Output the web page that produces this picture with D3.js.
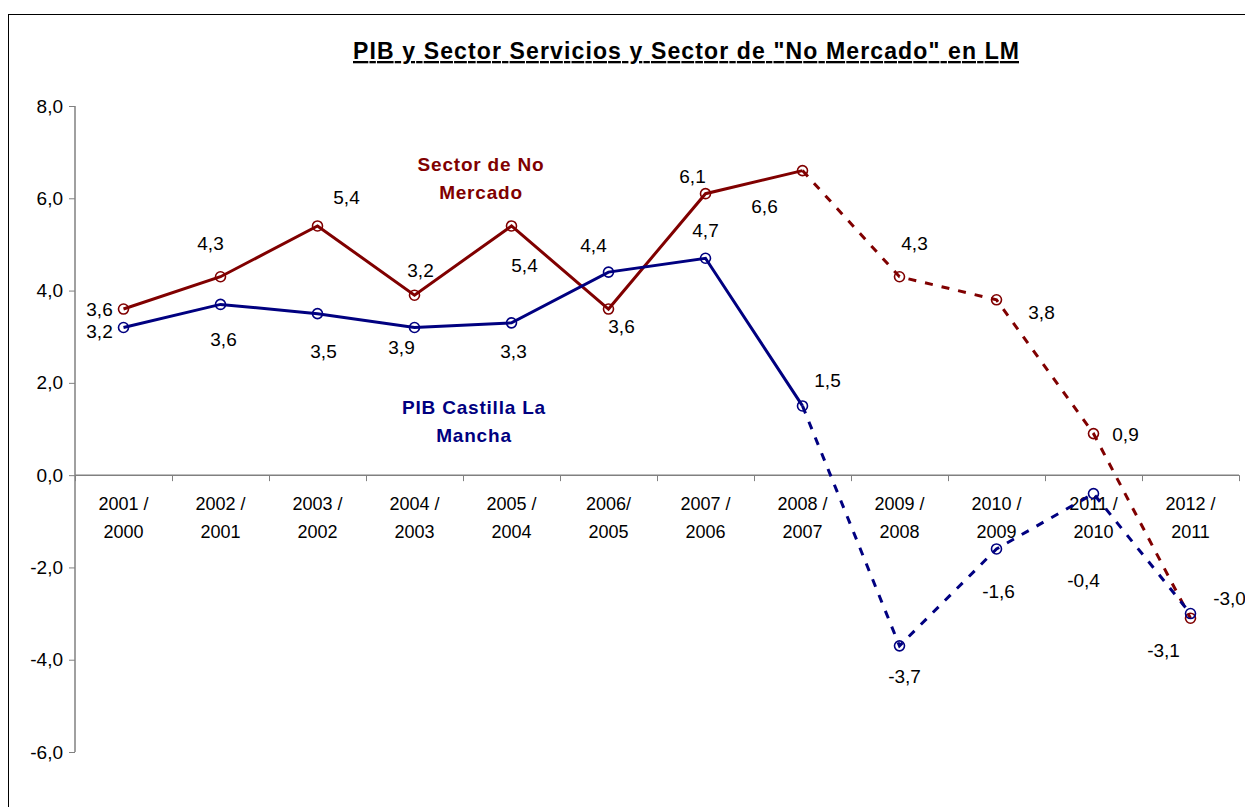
<html>
<head>
  <meta charset="utf-8">
  <script src="https://cdn.jsdelivr.net/npm/d3@7"></script>
</head>
<style>
  body { margin: 0; background: white; }
  svg { font-family: "Liberation Sans", Arial, sans-serif; }
</style>
<body>
  <svg id="chart" width="1245" height="807"></svg>
  <script>
    // data
    var categories = ['2001 /|2000', '2002 /|2001', '2003 /|2002', '2004 /|2003', '2005 /|2004', '2006/|2005',
                      '2007 /|2006', '2008 /|2007', '2009 /|2008', '2010 /|2009', '2011 /|2010', '2012 /|2011'];
    var noMercado = [3.6, 4.3, 5.4, 3.9, 5.4, 3.6, 6.1, 6.6, 4.3, 3.8, 0.9, -3.1];
    var pibCLM = [3.2, 3.7, 3.5, 3.2, 3.3, 4.4, 4.7, 1.5, -3.7, -1.6, -0.4, -3.0];
    // label texts as printed on the chart
    var noMercadoLabels = ['3,6', '4,3', '5,4', '3,2', '5,4', '3,6', '6,1', '6,6', '4,3', '3,8', '0,9', '-3,1'];
    var pibLabels = ['3,2', '3,6', '3,5', '3,9', '3,3', '4,4', '4,7', '1,5', '-3,7', '-1,6', '-0,4', '-3,0'];
    var yTicks = [-6, -4, -2, 0, 2, 4, 6, 8];
    var solidUntil = 7; // index of 2008/2007, dashed after it

    // label offsets (dx, dy) relative to the point
    var redOff = [[-24, 0], [-10, -34], [29, -29], [6, -25], [13, 39], [13, 17], [-13, -18], [-38, 35], [15, -34], [45, 12], [32, 0], [-27, 32]];
    var blueOff = [[-24, 4], [3, 35], [6, 37], [-13, 20], [2, 28], [-15, -27], [0, -28], [25, -26], [5, 30], [2, 42], [-10, 86], [39, -16]];

    var svg = d3.select('#chart');
    var red = '#800000', blue = '#000080';

    // outer frame
    svg.append('rect').attr('x', 8.5).attr('y', 14.5).attr('width', 1300).attr('height', 900)
      .attr('fill', 'none').attr('stroke', 'black').attr('stroke-width', 1);

    // title
    svg.append('text').attr('x', 686).attr('y', 59)
      .attr('text-anchor', 'middle').attr('font-size', '23px').attr('font-weight', 'bold')
      .attr('text-decoration', 'underline')
      .attr('textLength', 666).attr('lengthAdjust', 'spacing')
      .text('PIB y Sector Servicios y Sector de "No Mercado" en LM');

    var x = d3.scaleBand().domain(d3.range(categories.length)).range([75, 1239]);
    var y = d3.scaleLinear().domain([-6, 8]).range([752, 106]);
    var cx = function (i) { return x(i) + x.bandwidth() / 2; };

    // y axis
    var yAxis = svg.append('g').attr('transform', 'translate(75,0)')
      .call(d3.axisLeft(y).tickValues(yTicks).tickSize(6)
        .tickFormat(function (d) { return (d < 0 ? '-' : '') + Math.abs(d).toFixed(1).replace('.', ','); }));
    yAxis.select('.domain').attr('stroke', '#808080').attr('stroke-width', 1.5).attr('d', 'M0,' + y(-6) + 'V' + y(8));
    yAxis.selectAll('.tick line').attr('stroke', '#808080');
    yAxis.selectAll('.tick text').attr('font-size', '19px').attr('font-family', '"Liberation Sans", Arial, sans-serif').attr('x', -12).attr('fill', '#000');

    // x axis at zero
    var xAxis = svg.append('g').attr('transform', 'translate(0,' + y(0) + ')')
      .call(d3.axisBottom(d3.scaleLinear().domain([0, 12]).range([75, 1239])).tickValues(d3.range(13)).tickSize(6).tickFormat(''));
    xAxis.select('.domain').attr('stroke', '#808080').attr('stroke-width', 1.5).attr('d', 'M75,0H1239');
    xAxis.selectAll('.tick line').attr('stroke', '#808080');

    var catText = svg.append('g').selectAll('text').data(categories).enter().append('text')
      .attr('x', function (d, i) { return cx(i); })
      .attr('y', y(0) + 35)
      .attr('text-anchor', 'middle').attr('font-size', '18px');
    catText.append('tspan').attr('x', function (d, i) { return cx(i); }).text(function (d) { return d.split('|')[0]; });
    catText.append('tspan').attr('x', function (d, i) { return cx(i); }).attr('dy', 28).text(function (d) { return d.split('|')[1]; });

    function drawSeries(values, labels, offs, color) {
      var pts = values.map(function (v, i) { return [cx(i), y(v)]; });
      var line = d3.line();
      svg.append('path').attr('d', line(pts.slice(0, solidUntil + 1)))
        .attr('fill', 'none').attr('stroke', color).attr('stroke-width', 3);
      svg.append('path').attr('d', line(pts.slice(solidUntil)))
        .attr('fill', 'none').attr('stroke', color).attr('stroke-width', 3).attr('stroke-dasharray', '8,9');
      svg.append('g').selectAll('circle').data(values).enter().append('circle')
        .attr('cx', function (d, i) { return cx(i); })
        .attr('cy', function (d) { return y(d); })
        .attr('r', 5)
        .attr('fill', 'none').attr('stroke', color).attr('stroke-width', 1.6);
      svg.append('g').selectAll('text').data(labels).enter().append('text')
        .attr('x', function (d, i) { return cx(i) + offs[i][0]; })
        .attr('y', function (d, i) { return y(values[i]) + offs[i][1] + 7; })
        .attr('text-anchor', 'middle').attr('font-size', '19px').attr('fill', '#000')
        .text(function (d) { return d; });
    }

    drawSeries(noMercado, noMercadoLabels, redOff, red);
    drawSeries(pibCLM, pibLabels, blueOff, blue);

    // series names
    function seriesName(lines, xx, yy, color) {
      svg.append('g').selectAll('text').data(lines).enter().append('text')
        .attr('x', xx).attr('y', function (d, i) { return yy + i * 28; })
        .attr('text-anchor', 'middle').attr('font-size', '19px').attr('font-weight', 'bold')
        .attr('letter-spacing', '0.8px')
        .attr('fill', color).text(function (d) { return d; });
    }
    seriesName(['Sector de No', 'Mercado'], 481, 171, red);
    seriesName(['PIB Castilla La', 'Mancha'], 474, 414, blue);
  </script>
</body>
</html>
